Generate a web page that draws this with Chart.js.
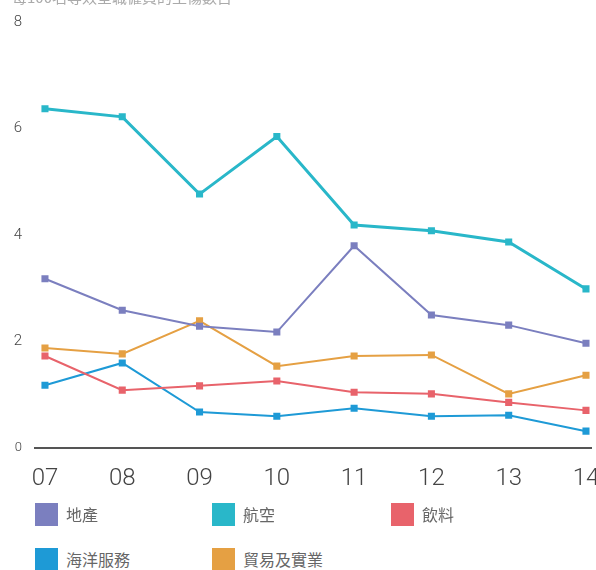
<!DOCTYPE html>
<html>
<head>
<meta charset="utf-8">
<script src="https://cdn.jsdelivr.net/npm/chart.js@4.4.1/dist/chart.umd.min.js"></script>
<style>
  html, body { margin: 0; padding: 0; background: #fff; }
  #wrap { position: absolute; left: 0; top: 0; width: 596px; height: 518px; }
  .legend { position: absolute; font-family: "Noto Sans CJK TC", "Noto Sans", sans-serif; font-size: 16px; color: #666; }
  .legend .item { position: absolute; display: flex; align-items: center; white-space: nowrap; }
  .legend .box { width: 23px; height: 23px; margin-right: 8px; }
</style>
</head>
<body>
<div id="wrap"><canvas id="chart"></canvas></div>
<div class="legend" id="legend"></div>
<script>
const years = ["07", "08", "09", "10", "11", "12", "13", "14"];
const seriesNames = ["地產", "航空", "飲料", "海洋服務", "貿易及實業"];
const property = [3.18, 2.59, 2.29, 2.18, 3.80, 2.50, 2.31, 1.97];
const aviation = [6.37, 6.22, 4.77, 5.85, 4.19, 4.08, 3.87, 2.99];
const beverages = [1.73, 1.09, 1.17, 1.26, 1.05, 1.02, 0.86, 0.71];
const marine = [1.18, 1.60, 0.68, 0.60, 0.75, 0.60, 0.62, 0.32];
const trading = [1.88, 1.77, 2.39, 1.54, 1.73, 1.75, 1.02, 1.37];
const yTicks = [0, 2, 4, 6, 8];
const titleText = "每100名等效全職僱員的工傷數目";

const Config = {
  colors: ["#7b7fbf", "#29b7c9", "#e8636b", "#1e9ad6", "#e5a043"],
  axis: "#555555",
  text: "#444444",
  font: `Roboto, "Liberation Sans", sans-serif`,
};

const values = [property, aviation, beverages, marine, trading];

const makeDataset = (name, i) => ({
  label: name,
  data: values[i].map((v, k) => ({ x: k, y: v })),
  borderColor: Config.colors[i],
  backgroundColor: Config.colors[i],
  borderWidth: i === 1 ? 3 : 2,
  pointStyle: "rect",
  pointRadius: 5,
  pointBorderWidth: 0,
  pointHoverRadius: 5,
  tension: 0,
  fill: false,
});

// draws the (mostly cropped) caption at the very top
const topCaption = {
  id: "topCaption",
  afterDraw(chart) {
    const c = chart.ctx;
    c.save();
    c.font = `15px "Noto Sans CJK TC", sans-serif`;
    c.fillStyle = "#aaaaaa";
    c.textBaseline = "alphabetic";
    c.textAlign = "left";
    c.fillText(titleText, 12, 3);
    c.restore();
  },
};

new Chart(document.getElementById("chart"), {
  type: "line",
  data: {
    datasets: seriesNames.map(makeDataset),
  },
  plugins: [topCaption],
  options: {
    responsive: true,
    maintainAspectRatio: false,
    animation: false,
    layout: { padding: { top: 12, bottom: 9, left: 0, right: 0 } },
    scales: {
      x: {
        type: "linear",
        min: -0.129,
        max: 7.065,
        afterBuildTicks: (scale) => {
          scale.ticks = years.map((_, i) => ({ value: i }));
        },
        afterFit: (scale) => {
          scale.paddingLeft = 0;
          scale.paddingRight = 0;
        },
        ticks: {
          autoSkip: false,
          maxRotation: 0,
          padding: 16,
          color: Config.text,
          font: { size: 24, weight: 300, family: Config.font },
          callback: (v) => years[v],
        },
        grid: { display: false, drawTicks: false },
        border: { display: true, color: Config.axis, width: 2 },
      },
      y: {
        min: 0,
        max: 8,
        afterBuildTicks: (scale) => {
          scale.ticks = yTicks.map((v) => ({ value: v }));
        },
        afterFit: (scale) => {
          scale.width = 35;
        },
        ticks: {
          padding: 13,
          color: Config.text,
          font: (ctx) => ({ size: ctx.tick && ctx.tick.value === 0 ? 13 : 15, weight: 300, family: Config.font }),
        },
        grid: { display: false, drawTicks: false },
        border: { display: false },
      },
    },
    plugins: {
      legend: { display: false },
      tooltip: { enabled: false },
    },
  },
});

// html legend under the chart
const legendPos = [[35, 502], [212, 502], [391, 502], [35, 547], [212, 547]];
const legendEl = document.getElementById("legend");
seriesNames.forEach((name, i) => {
  const item = document.createElement("div");
  item.className = "item";
  item.style.left = legendPos[i][0] + "px";
  item.style.top = legendPos[i][1] + "px";
  item.innerHTML = `<span class="box" style="background:${Config.colors[i]}"></span><span>${name}</span>`;
  legendEl.appendChild(item);
});
</script>
</body>
</html>
